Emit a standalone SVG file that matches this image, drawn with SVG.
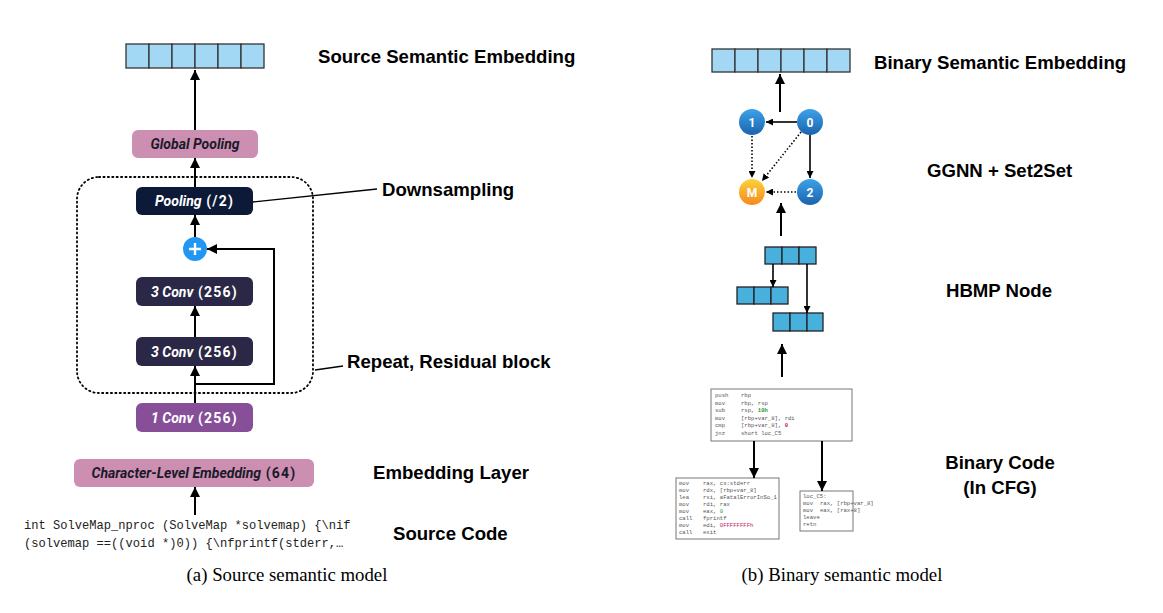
<svg xmlns="http://www.w3.org/2000/svg" width="1163" height="613" viewBox="0 0 1163 613">
<defs>
<style>
.lbl{font-family:"Liberation Sans",Arial,sans-serif;font-weight:bold;font-size:18.6px;fill:#000}
.cap{font-family:"Liberation Serif","Times New Roman",serif;font-size:18.8px;fill:#000}
.nt{font-family:Roboto,"Noto Sans",sans-serif;font-weight:bold;font-size:14px;text-anchor:middle}
.it{font-style:italic}
.num{letter-spacing:1.2px}
.vec{fill:#a3d8f4;stroke:#333;stroke-width:1.3}
.hb{fill:#48b0dc;stroke:#222;stroke-width:1.3}
.arr{stroke:#000;stroke-width:2;fill:none;marker-end:url(#ah)}
.garr{stroke:#000;stroke-width:1.6;fill:none;marker-end:url(#ahs)}
.gdot{stroke:#000;stroke-width:1.6;fill:none;stroke-dasharray:1.5 2;marker-end:url(#ahs)}
.code{font-family:"Liberation Mono","DejaVu Sans Mono",monospace;font-size:5.6px;fill:#555}
.cbox{fill:#fff;stroke:#777;stroke-width:1}
.nl{font-family:Roboto,"Noto Sans",sans-serif;font-weight:bold;font-size:12px;fill:#fff;text-anchor:middle}
.src{font-family:"Liberation Mono","DejaVu Sans Mono",monospace;font-size:12.1px;fill:#222}
</style>
<marker id="ah" viewBox="0 0 10 10" refX="10" refY="5" markerWidth="10" markerHeight="10" markerUnits="userSpaceOnUse" orient="auto">
<path d="M0,0 L10,5 L0,10 z" fill="#000"/>
</marker>
<marker id="ahs" viewBox="0 0 10 10" refX="10" refY="5" markerWidth="7" markerHeight="7" markerUnits="userSpaceOnUse" orient="auto">
<path d="M0,0 L10,5 L0,10 z" fill="#000"/>
</marker>
<linearGradient id="gb" x1="0" y1="0" x2="0" y2="1">
<stop offset="0" stop-color="#3da2e8"/><stop offset="1" stop-color="#1b63ae"/>
</linearGradient>
<linearGradient id="go" x1="0" y1="0" x2="0" y2="1">
<stop offset="0" stop-color="#fcd23c"/><stop offset="1" stop-color="#f5891e"/>
</linearGradient>
</defs>
<rect width="1163" height="613" fill="#fff"/>

<!-- LEFT: source semantic model -->
<g id="src-embedding">
<rect class="vec" x="126" y="44" width="23" height="24"/>
<rect class="vec" x="149" y="44" width="23" height="24"/>
<rect class="vec" x="172" y="44" width="23" height="24"/>
<rect class="vec" x="195" y="44" width="23" height="24"/>
<rect class="vec" x="218" y="44" width="23" height="24"/>
<rect class="vec" x="241" y="44" width="23" height="24"/>
</g>
<g id="residual-block">
<rect x="77" y="177" width="236" height="216" rx="22" fill="none" stroke="#000" stroke-width="1.8" stroke-dasharray="1.2 3.2" stroke-linecap="round"/>
</g>
<g id="global-pooling">
<rect x="132" y="130" width="126" height="28" rx="6" fill="#cc8fb1"/>
<text class="nt it" x="195" y="149" fill="#1a1a2a">Global Pooling</text>
</g>
<g id="pooling">
<rect x="136" y="187" width="117" height="28" rx="6" fill="#0d1a37"/>
<text class="nt" x="194.5" y="206" fill="#fff"><tspan class="it">Pooling</tspan><tspan class="num"> (/2)</tspan></text>
</g>
<g id="plus">
<circle cx="195" cy="249" r="12" fill="#2196f3"/>
<path d="M189,249 H201 M195,243 V255" stroke="#fff" stroke-width="2.4"/>
</g>
<g id="conv3-upper">
<rect x="136" y="277" width="117" height="29" rx="6" fill="#2a2846"/>
<text class="nt" x="194.5" y="296.5" fill="#fff"><tspan class="it">3 Conv</tspan><tspan class="num"> (256)</tspan></text>
</g>
<g id="conv3-lower">
<rect x="136" y="337" width="117" height="29" rx="6" fill="#2a2846"/>
<text class="nt" x="194.5" y="356.5" fill="#fff"><tspan class="it">3 Conv</tspan><tspan class="num"> (256)</tspan></text>
</g>
<g id="conv1">
<rect x="136" y="403" width="117" height="29" rx="6" fill="#864f98"/>
<text class="nt" x="194.5" y="422.5" fill="#fff"><tspan class="it">1 Conv</tspan><tspan class="num"> (256)</tspan></text>
</g>
<g id="char-embedding">
<rect x="74" y="459" width="240" height="28" rx="6" fill="#cc8fb1"/>
<text class="nt" x="194" y="478" fill="#1a1a2a"><tspan class="it">Character-Level Embedding</tspan><tspan class="num"> (64)</tspan></text>
</g>
<g id="source-code">
<text class="src" x="24" y="529">int SolveMap_nproc (SolveMap *solvemap) {\nif</text>
<text class="src" x="24" y="547">(solvemap ==((void *)0)) {\nfprintf(stderr,…</text>
</g>
<g id="left-labels">
<text class="lbl" x="318" y="63">Source Semantic Embedding</text>
<text class="lbl" x="382" y="196">Downsampling</text>
<text class="lbl" x="347" y="368">Repeat, Residual block</text>
<text class="lbl" x="373" y="479">Embedding Layer</text>
<text class="lbl" x="393" y="540">Source Code</text>
<text class="cap" x="287" y="581" text-anchor="middle">(a) Source semantic model</text>
</g>

<!-- RIGHT: binary semantic model -->
<g id="bin-embedding">
<rect class="vec" x="712" y="49" width="23" height="23"/>
<rect class="vec" x="735" y="49" width="23" height="23"/>
<rect class="vec" x="758" y="49" width="23" height="23"/>
<rect class="vec" x="781" y="49" width="23" height="23"/>
<rect class="vec" x="804" y="49" width="23" height="23"/>
<rect class="vec" x="827" y="49" width="23" height="23"/>
</g>
<g id="node-1"><circle cx="752" cy="122" r="13" fill="url(#gb)"/><text class="nl" x="752" y="126.5">1</text></g>
<g id="node-0"><circle cx="810" cy="122" r="13" fill="url(#gb)"/><text class="nl" x="810" y="126.5">0</text></g>
<g id="node-M"><circle cx="752" cy="192" r="13" fill="url(#go)"/><text class="nl" x="752" y="196.5">M</text></g>
<g id="node-2"><circle cx="810" cy="192" r="13" fill="url(#gb)"/><text class="nl" x="810" y="196.5">2</text></g>
<g id="hbmp">
<rect class="hb" x="765" y="247" width="17" height="17"/>
<rect class="hb" x="782" y="247" width="17" height="17"/>
<rect class="hb" x="799" y="247" width="17" height="17"/>
<rect class="hb" x="737" y="287" width="17" height="17"/>
<rect class="hb" x="754" y="287" width="17" height="17"/>
<rect class="hb" x="771" y="287" width="17" height="17"/>
<rect class="hb" x="773" y="313" width="17" height="18"/>
<rect class="hb" x="790" y="313" width="17" height="18"/>
<rect class="hb" x="807" y="313" width="16" height="18"/>
</g>
<g id="cfg-block-main">
<rect class="cbox" x="711" y="389" width="141" height="52"/>
<text class="code" x="715" y="397">push</text><text class="code" x="741" y="397">rbp</text>
<text class="code" x="715" y="404.5">mov</text><text class="code" x="741" y="404.5">rbp, rsp</text>
<text class="code" x="715" y="412">sub</text><text class="code" x="741" y="412">rsp, <tspan fill="#2a9a2a" font-weight="bold">10h</tspan></text>
<text class="code" x="715" y="419.5">mov</text><text class="code" x="741" y="419.5">[rbp+var_8], rdi</text>
<text class="code" x="715" y="427">cmp</text><text class="code" x="741" y="427">[rbp+var_8], <tspan fill="#c2185b" font-weight="bold">0</tspan></text>
<text class="code" x="715" y="434.5">jnz</text><text class="code" x="741" y="434.5">short loc_C5</text>
</g>
<g id="cfg-block-left">
<rect class="cbox" x="676" y="478" width="103" height="61"/>
<text class="code" x="679" y="485">mov</text><text class="code" x="703" y="485">rax, cs:stderr</text>
<text class="code" x="679" y="492">mov</text><text class="code" x="703" y="492">rdx, [rbp+var_8]</text>
<text class="code" x="679" y="499">lea</text><text class="code" x="703" y="499">rsi, aFatalErrorInSo_1</text>
<text class="code" x="679" y="506">mov</text><text class="code" x="703" y="506">rdi, rax</text>
<text class="code" x="679" y="513">mov</text><text class="code" x="703" y="513">eax, <tspan fill="#2a9a2a">0</tspan></text>
<text class="code" x="679" y="520">call</text><text class="code" x="703" y="520">fprintf</text>
<text class="code" x="679" y="527">mov</text><text class="code" x="703" y="527">edi, <tspan fill="#c2185b">0FFFFFFFFh</tspan></text>
<text class="code" x="679" y="534">call</text><text class="code" x="703" y="534">exit</text>
</g>
<g id="cfg-block-right">
<rect class="cbox" x="800" y="491" width="53" height="40"/>
<text class="code" x="803" y="498">loc_C5:</text>
<text class="code" x="803" y="505">mov</text><text class="code" x="820" y="505">rax, [rbp+var_8]</text>
<text class="code" x="803" y="512">mov</text><text class="code" x="820" y="512">eax, [rax+8]</text>
<text class="code" x="803" y="519">leave</text>
<text class="code" x="803" y="526">retn</text>
</g>
<g id="right-labels">
<text class="lbl" x="874" y="69">Binary Semantic Embedding</text>
<text class="lbl" x="927" y="177">GGNN + Set2Set</text>
<text class="lbl" x="946" y="297">HBMP Node</text>
<text class="lbl" x="1000" y="469" text-anchor="middle">Binary Code</text>
<text class="lbl" x="1000" y="494" text-anchor="middle">(In CFG)</text>
<text class="cap" x="842" y="581" text-anchor="middle">(b) Binary semantic model</text>
</g>

<g id="connectors">
<line class="arr" x1="195" y1="130" x2="195" y2="70"/>
<line class="arr" x1="195" y1="187" x2="195" y2="158"/>
<line class="arr" x1="195" y1="237" x2="195" y2="215"/>
<line class="arr" x1="195" y1="337" x2="195" y2="306"/>
<line class="arr" x1="195" y1="403" x2="195" y2="366"/>
<path class="arr" d="M195,384 H274 V249 H207"/>
<line class="arr" x1="195" y1="515" x2="195" y2="487"/>
<line x1="253" y1="202" x2="377" y2="189" stroke="#000" stroke-width="1.3"/>
<line x1="315" y1="370" x2="343" y2="366" stroke="#000" stroke-width="1.3"/>
<line class="arr" x1="780" y1="112" x2="780" y2="74"/>
<line class="garr" x1="797" y1="122" x2="766" y2="122"/>
<line class="garr" x1="810" y1="135" x2="810" y2="178"/>
<line class="gdot" x1="752" y1="136" x2="752" y2="178"/>
<line class="gdot" x1="801" y1="132" x2="762" y2="181"/>
<line class="gdot" x1="796" y1="192" x2="766" y2="192"/>
<line class="arr" x1="781" y1="236" x2="781" y2="203"/>
<line class="garr" x1="773" y1="264" x2="773" y2="287"/>
<line class="garr" x1="807" y1="264" x2="807" y2="313"/>
<line class="arr" x1="782" y1="377" x2="782" y2="344"/>
<line class="arr" x1="754" y1="441" x2="754" y2="478"/>
<line class="arr" x1="822" y1="441" x2="822" y2="491"/>
</g>
</svg>
